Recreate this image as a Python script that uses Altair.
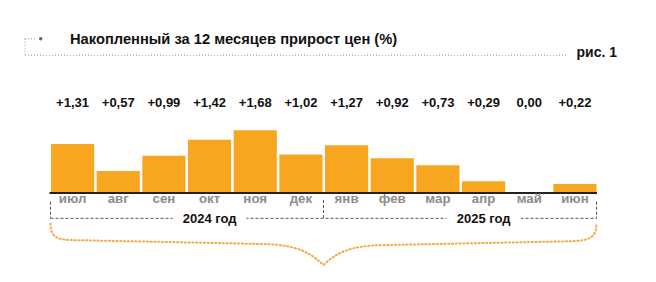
import altair as alt
import pandas as pd

# ---- data ----
months = ["июл", "авг", "сен", "окт", "ноя", "дек", "янв", "фев", "мар", "апр", "май", "июн"]
values = [1.31, 0.57, 0.99, 1.42, 1.68, 1.02, 1.27, 0.92, 0.73, 0.29, 0.00, 0.22]
value_labels = ["+1,31", "+0,57", "+0,99", "+1,42", "+1,68", "+1,02",
                "+1,27", "+0,92", "+0,73", "+0,29", "0,00", "+0,22"]
years = ["2024 год", "2025 год"]
year_center_months = ["окт", "апр"]
title_text = "Накопленный за 12 месяцев прирост цен (%)"
fig_text = "рис. 1"

FONT = "Liberation Sans"
ORANGE = "#F8A51F"
BRACE = "#F5A944"

df = pd.DataFrame({"month": months, "value": values, "label": value_labels})
ydf = pd.DataFrame({"year": years, "month": year_center_months})
one = pd.DataFrame({"k": [0]})

x_scale = alt.Scale(domain=months, range=[51, 596.5], paddingInner=0.055, paddingOuter=0)
y_scale = alt.Scale(domain=[0, 1.68], range=[192, 130.3], nice=False, zero=True)
X = alt.X("month:N", scale=x_scale, axis=None, sort=months)

bars = alt.Chart(df).mark_bar(color=ORANGE).encode(
    x=X, y=alt.Y("value:Q", scale=y_scale, axis=None)
)

value_text = alt.Chart(df).mark_text(
    font=FONT, fontSize=13, fontWeight="bold", color="#111", baseline="alphabetic"
).encode(x=X, y=alt.value(106.5), text="label:N")

month_text = alt.Chart(df).mark_text(
    font=FONT, fontSize=13.3, fontWeight="bold", color="#8c8c8c", baseline="alphabetic"
).encode(x=X, y=alt.value(203.3), text="month:N")

baseline = alt.Chart(one).mark_rule(color="#222", strokeWidth=2).encode(
    x=alt.value(49.5), x2=alt.value(597), y=alt.value(193)
)

def rule(x1, x2, y1, y2, color="#555", dash=(3, 2), width=1):
    return alt.Chart(one).mark_rule(color=color, strokeDash=list(dash), strokeWidth=width).encode(
        x=alt.value(x1), x2=alt.value(x2), y=alt.value(y1), y2=alt.value(y2)
    )

# year bracket (dashed)
bracket = [
    rule(50.5, 50.5, 201.7, 218.3),
    rule(323.5, 323.5, 200, 218.3),
    rule(596.5, 596.5, 201.7, 218.3),
    rule(50.5, 596.5, 218.3, 218.3),
]

year_bg = alt.Chart(ydf).mark_bar(width=74, color="white").encode(
    x=X, y=alt.value(211), y2=alt.value(226)
)
year_text = alt.Chart(ydf).mark_text(
    font=FONT, fontSize=13, fontWeight="bold", color="#111", baseline="alphabetic"
).encode(x=X, y=alt.value(222.7), text="year:N")

# orange dotted brace
brace_path = ("M -1 -0.075 C -1 -0.02 -0.97 -0.014 -0.9 -0.014 "
              "L -0.22 0 C -0.1 0.003 -0.05 0.03 0 0.077 "
              "C 0.05 0.03 0.1 0.006 0.22 0.004 "
              "L 0.9 -0.01 C 0.97 -0.012 1 -0.02 1 -0.075")
brace = alt.Chart(one).mark_point(
    shape=brace_path, size=546 ** 2, filled=False, stroke=BRACE, strokeWidth=2,
    strokeDash=[1.2, 2.6], strokeCap="round", opacity=1
).encode(x=alt.value(323.5), y=alt.value(244))

# header
header = [
    rule(25, 37, 38.7, 38.7, color="#9a9a9a", dash=(1, 2)),
    rule(25, 25, 38.7, 55.3, color="#9a9a9a", dash=(1, 2)),
    rule(25, 568, 55.3, 55.3, color="#9a9a9a", dash=(1, 2)),
]
dot = alt.Chart(one).mark_point(filled=True, size=12, color="#5d6272", opacity=1).encode(
    x=alt.value(40.7), y=alt.value(38.7)
)
title = alt.Chart(one).mark_text(
    text=title_text, font=FONT, fontSize=14.7, fontWeight="bold", color="#111",
    align="left", baseline="alphabetic"
).encode(x=alt.value(70), y=alt.value(43.7))
fig = alt.Chart(one).mark_text(
    text=fig_text, font=FONT, fontSize=14, fontWeight="bold", color="#111",
    align="left", baseline="alphabetic"
).encode(x=alt.value(576.5), y=alt.value(56.7))

chart = alt.layer(
    *header, dot, title, fig,
    bars, baseline, value_text, month_text,
    *bracket, year_bg, year_text, brace
).properties(
    width=656, height=282,
    autosize=alt.AutoSizeParams(type="none"),
    padding=0, background="white"
).configure_view(stroke=None)

chart.save("out.html", embed_options={"renderer": "svg", "actions": False})
